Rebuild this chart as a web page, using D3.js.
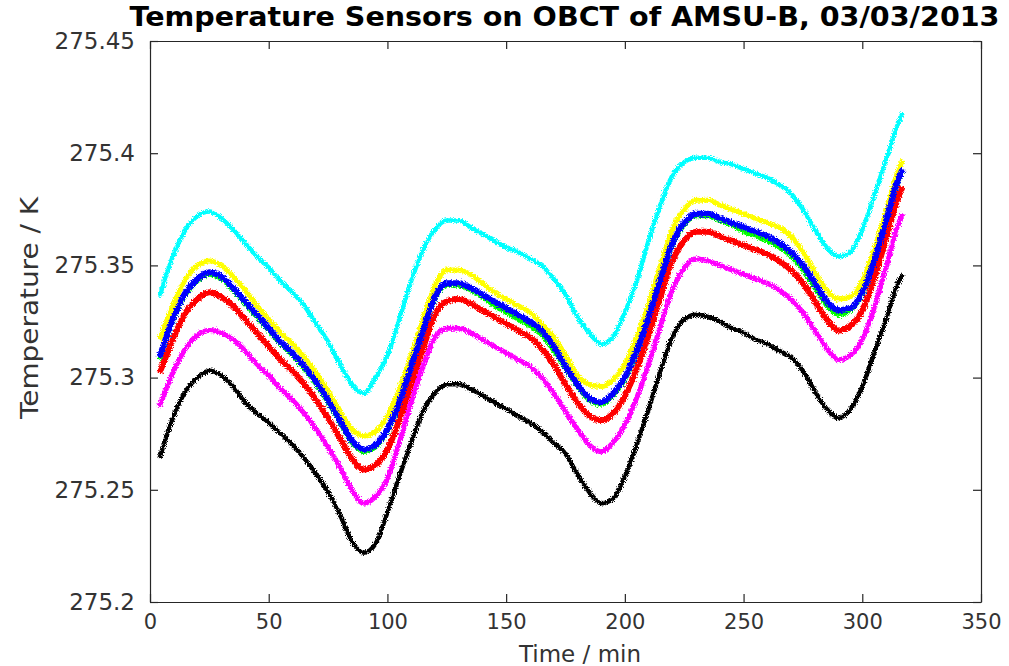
<!DOCTYPE html>
<html>
<head>
<meta charset="utf-8">
<script src="https://cdn.jsdelivr.net/npm/d3@7"></script>
<style>
  body { margin: 0; background: #fff; }
  text { font-family: "DejaVu Sans", sans-serif; }
</style>
</head>
<body>
<svg id="chart" width="1009" height="666"></svg>
<script>
// time axis (minutes) shared by all sensors
const times = [4, 10, 15, 20, 25, 30, 35, 40, 45, 50, 55, 60, 65, 70, 75, 80, 85, 90, 95, 100,
  105, 110, 115, 120, 125, 130, 135, 140, 145, 150, 155, 160, 165, 170, 175, 180, 185, 190, 195, 200,
  205, 210, 215, 220, 225, 230, 235, 240, 245, 250, 255, 260, 265, 270, 275, 280, 285, 290, 295, 300,
  305, 310, 315, 317];

// temperatures in K
const cyanT = [275.336, 275.355, 275.366, 275.372, 275.374, 275.371, 275.366, 275.360, 275.354, 275.349,
  275.343, 275.338, 275.332, 275.324, 275.316, 275.306, 275.297, 275.293, 275.300, 275.310,
  275.326, 275.343, 275.357, 275.366, 275.370, 275.370, 275.367, 275.364, 275.361, 275.358,
  275.356, 275.353, 275.350, 275.344, 275.337, 275.327, 275.320, 275.315, 275.318, 275.329,
  275.343, 275.361, 275.377, 275.390, 275.396, 275.398, 275.398, 275.396, 275.395, 275.393,
  275.391, 275.389, 275.386, 275.382, 275.375, 275.366, 275.358, 275.354, 275.356, 275.366,
  275.381, 275.397, 275.413, 275.418];
const yellowT = [275.317, 275.333, 275.344, 275.350, 275.352, 275.350, 275.345, 275.339, 275.332, 275.326,
  275.320, 275.315, 275.309, 275.302, 275.294, 275.285, 275.277, 275.274, 275.276, 275.283,
  275.295, 275.310, 275.326, 275.341, 275.348, 275.348, 275.346, 275.342, 275.338, 275.335,
  275.332, 275.329, 275.324, 275.318, 275.310, 275.301, 275.297, 275.296, 275.299, 275.306,
  275.318, 275.333, 275.350, 275.366, 275.375, 275.379, 275.379, 275.377, 275.375, 275.373,
  275.371, 275.369, 275.367, 275.363, 275.356, 275.347, 275.339, 275.335, 275.336, 275.343,
  275.357, 275.374, 275.392, 275.397];
const greenT = [275.308, 275.326, 275.337, 275.343, 275.346, 275.344, 275.339, 275.333, 275.327, 275.321,
  275.315, 275.310, 275.304, 275.297, 275.289, 275.280, 275.271, 275.267, 275.269, 275.276,
  275.288, 275.304, 275.320, 275.335, 275.341, 275.341, 275.339, 275.336, 275.332, 275.329,
  275.326, 275.323, 275.319, 275.312, 275.304, 275.296, 275.290, 275.288, 275.292, 275.299,
  275.311, 275.326, 275.343, 275.359, 275.368, 275.372, 275.372, 275.370, 275.368, 275.365,
  275.363, 275.361, 275.358, 275.354, 275.348, 275.340, 275.332, 275.328, 275.330, 275.337,
  275.351, 275.369, 275.387, 275.392];
const blueT = [275.309, 275.327, 275.338, 275.344, 275.347, 275.345, 275.340, 275.334, 275.328, 275.322,
  275.316, 275.311, 275.305, 275.298, 275.290, 275.281, 275.272, 275.268, 275.270, 275.277,
  275.289, 275.305, 275.321, 275.336, 275.342, 275.342, 275.340, 275.337, 275.334, 275.331,
  275.328, 275.325, 275.321, 275.314, 275.305, 275.297, 275.291, 275.289, 275.293, 275.300,
  275.312, 275.327, 275.344, 275.360, 275.369, 275.373, 275.373, 275.371, 275.369, 275.367,
  275.365, 275.363, 275.360, 275.356, 275.350, 275.342, 275.334, 275.330, 275.331, 275.338,
  275.352, 275.370, 275.388, 275.393];
const redT = [275.302, 275.318, 275.329, 275.335, 275.338, 275.336, 275.332, 275.326, 275.320, 275.314,
  275.308, 275.303, 275.297, 275.290, 275.282, 275.273, 275.264, 275.259, 275.261, 275.268,
  275.281, 275.297, 275.313, 275.328, 275.334, 275.335, 275.333, 275.330, 275.327, 275.324,
  275.321, 275.318, 275.313, 275.306, 275.297, 275.289, 275.283, 275.281, 275.284, 275.292,
  275.304, 275.319, 275.336, 275.352, 275.361, 275.365, 275.365, 275.363, 275.361, 275.359,
  275.357, 275.355, 275.352, 275.348, 275.342, 275.334, 275.326, 275.321, 275.323, 275.330,
  275.344, 275.362, 275.380, 275.385];
const magentaT = [275.287, 275.303, 275.313, 275.319, 275.321, 275.320, 275.317, 275.312, 275.306, 275.301,
  275.295, 275.290, 275.284, 275.277, 275.269, 275.260, 275.250, 275.244, 275.247, 275.255,
  275.271, 275.289, 275.305, 275.318, 275.322, 275.322, 275.320, 275.317, 275.314, 275.311,
  275.308, 275.305, 275.300, 275.293, 275.285, 275.277, 275.270, 275.267, 275.271, 275.279,
  275.291, 275.306, 275.323, 275.339, 275.349, 275.353, 275.352, 275.350, 275.348, 275.346,
  275.344, 275.342, 275.339, 275.335, 275.329, 275.321, 275.313, 275.308, 275.310, 275.317,
  275.331, 275.349, 275.368, 275.373];
const blackT = [275.264, 275.283, 275.294, 275.300, 275.303, 275.301, 275.296, 275.289, 275.284, 275.280,
  275.275, 275.270, 275.264, 275.257, 275.249, 275.239, 275.227, 275.222, 275.226, 275.240,
  275.256, 275.271, 275.285, 275.293, 275.297, 275.297, 275.295, 275.292, 275.289, 275.286,
  275.283, 275.280, 275.276, 275.271, 275.266, 275.257, 275.249, 275.244, 275.246, 275.256,
  275.270, 275.286, 275.303, 275.318, 275.326, 275.328, 275.327, 275.325, 275.322, 275.320,
  275.317, 275.315, 275.312, 275.309, 275.303, 275.294, 275.286, 275.282, 275.286, 275.296,
  275.311, 275.326, 275.342, 275.346];

const seriesNames = ["cyan", "yellow", "green", "red", "magenta", "black", "blue"];
const seriesValues = [cyanT, yellowT, greenT, redT, magentaT, blackT, blueT];
const seriesColors = ["#00ffff", "#ffff00", "#00ff00", "#ff0000", "#ff00ff", "#000000", "#0000ff"];

const xTicks = [0, 50, 100, 150, 200, 250, 300, 350];
const yTicks = [275.2, 275.25, 275.3, 275.35, 275.4, 275.45];
const yTickLabels = ["275.2", "275.25", "275.3", "275.35", "275.4", "275.45"];

const svg = d3.select("#chart");
const plotLeft = 150, plotRight = 981, plotTop = 41, plotBottom = 602;

const x = d3.scaleLinear().domain([0, 350]).range([plotLeft, plotRight]);
const y = d3.scaleLinear().domain([275.2, 275.45]).range([plotBottom, plotTop]);

// slight jitter so the thick traces look like noisy sensor data
const defs = svg.append("defs");
const filt = defs.append("filter").attr("id", "jitter")
  .attr("x", "-2%").attr("y", "-5%").attr("width", "104%").attr("height", "110%");
filt.append("feTurbulence").attr("type", "fractalNoise")
  .attr("baseFrequency", "0.8 0.8").attr("numOctaves", 1).attr("seed", 4).attr("result", "n");
filt.append("feDisplacementMap").attr("in", "SourceGraphic").attr("in2", "n")
  .attr("scale", 6).attr("xChannelSelector", "R").attr("yChannelSelector", "G");

const line = d3.line()
  .x((d) => x(d[0]))
  .y((d) => y(d[1]))
  .curve(d3.curveMonotoneX);

const widths = { cyan: 4.5, yellow: 5, green: 4.5, red: 6, magenta: 5, black: 4.5, blue: 6 };

svg.append("g")
  .selectAll("path")
  .data(seriesValues)
  .enter()
  .append("path")
  .attr("fill", "none")
  .attr("stroke", (d, i) => seriesColors[i])
  .attr("stroke-width", (d, i) => widths[seriesNames[i]])
  .attr("stroke-linejoin", "round")
  .attr("filter", "url(#jitter)")
  .attr("d", (vals) => line(times.map((t, i) => [t, vals[i]])));

// axes: box with inward ticks
const axisColor = "#262626";
const gx = svg.append("g").attr("transform", `translate(0,${plotBottom})`)
  .call(d3.axisBottom(x).tickValues(xTicks).tickSizeInner(-8).tickSizeOuter(0).tickPadding(12));
const gxt = svg.append("g").attr("transform", `translate(0,${plotTop})`)
  .call(d3.axisTop(x).tickValues(xTicks).tickSizeInner(-8).tickSizeOuter(0).tickFormat(""));
const gy = svg.append("g").attr("transform", `translate(${plotLeft},0)`)
  .call(d3.axisLeft(y).tickValues(yTicks).tickSizeInner(-8).tickSizeOuter(0).tickPadding(15)
    .tickFormat((d, i) => yTickLabels[i]));
const gyr = svg.append("g").attr("transform", `translate(${plotRight},0)`)
  .call(d3.axisRight(y).tickValues(yTicks).tickSizeInner(-8).tickSizeOuter(0).tickFormat(""));

[gx, gxt, gy, gyr].forEach((g) => {
  g.select(".domain").attr("stroke", axisColor).attr("stroke-width", 1.2);
  g.selectAll(".tick line").attr("stroke", axisColor).attr("stroke-width", 1.2);
  g.selectAll("text").attr("fill", "#333").style("font-size", "21px")
    .style("font-family", "'DejaVu Sans', sans-serif");
});
gy.selectAll("text").style("font-size", "23px");

svg.append("text")
  .attr("x", (plotLeft + plotRight) / 2 - 1)
  .attr("y", 26)
  .attr("text-anchor", "middle")
  .attr("textLength", 870)
  .attr("lengthAdjust", "spacingAndGlyphs")
  .style("font-size", "26px")
  .style("font-weight", "bold")
  .attr("fill", "#000")
  .text("Temperature Sensors on OBCT of AMSU-B, 03/03/2013");

svg.append("text")
  .attr("x", 580)
  .attr("y", 662)
  .attr("text-anchor", "middle")
  .attr("fill", "#333")
  .style("font-size", "23px")
  .text("Time / min");

svg.append("text")
  .attr("transform", "translate(38,308) rotate(-90)")
  .attr("text-anchor", "middle")
  .attr("textLength", 222)
  .attr("lengthAdjust", "spacingAndGlyphs")
  .attr("fill", "#333")
  .style("font-size", "24px")
  .text("Temperature / K");
</script>
</body>
</html>
